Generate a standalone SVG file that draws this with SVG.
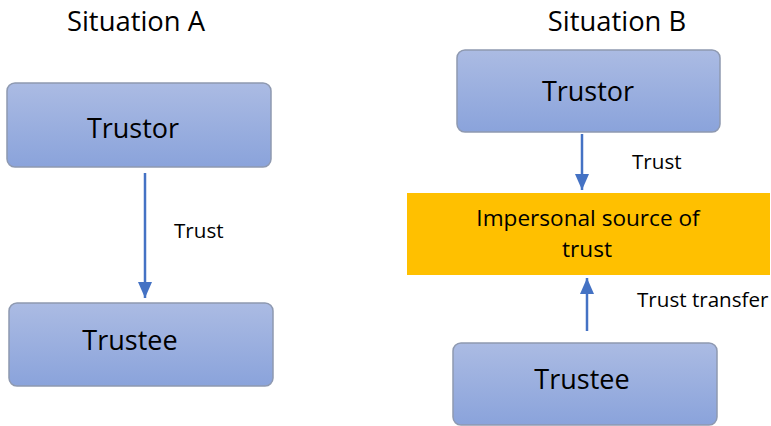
<svg xmlns="http://www.w3.org/2000/svg" width="771" height="426" viewBox="0 0 771 426">
<defs>
<linearGradient id="g" x1="0" y1="0" x2="0" y2="1">
<stop offset="0" stop-color="#abbbe3"/>
<stop offset="1" stop-color="#8aa3db"/>
</linearGradient>
<marker id="ah" viewBox="0 0 16 14" refX="16" refY="7" markerWidth="16" markerHeight="14" markerUnits="userSpaceOnUse" orient="auto">
<path d="M0,0 L16,7 L0,14 Z" fill="#4472c4"/>
</marker>
<style>
text{font-family:"Open Sans","Noto Sans","DejaVu Sans",sans-serif;fill:#000;text-anchor:middle}
.box{fill:url(#g);stroke:#8e99b0;stroke-width:1.5}
.title{font-size:27.4px}
.lbl{font-size:27px}
.src{font-size:22.6px}
.small{font-size:20.6px;text-anchor:start}
.conn{stroke:#4472c4;stroke-width:2.5;fill:none;marker-end:url(#ah)}
</style>
</defs>
<text class="title" x="136" y="31">Situation A</text>
<text class="title" x="617" y="31">Situation B</text>
<g id="trustorA"><rect class="box" x="7" y="83" width="264" height="84" rx="8"/><text class="lbl" x="133" y="138">Trustor</text></g>
<g id="trusteeA"><rect class="box" x="9" y="303" width="264" height="83" rx="8"/><text class="lbl" x="130" y="350">Trustee</text></g>
<g id="trustorB"><rect class="box" x="457" y="50" width="263" height="82" rx="8"/><text class="lbl" x="588" y="101">Trustor</text></g>
<g id="source"><rect x="407" y="193" width="363" height="82" fill="#ffc000"/><text class="src" x="588" y="226">Impersonal source of</text><text class="src" x="587" y="257">trust</text></g>
<g id="trusteeB"><rect class="box" x="453" y="343" width="264" height="82" rx="8"/><text class="lbl" x="582" y="389">Trustee</text></g>
<g id="connectors">
<line class="conn" x1="145" y1="173" x2="145" y2="298"/>
<line class="conn" x1="582" y1="134" x2="582" y2="190"/>
<line class="conn" x1="587" y1="331" x2="587" y2="278"/>
<text class="small" x="174" y="238">Trust</text>
<text class="small" x="632" y="169">Trust</text>
<text class="small" x="637" y="307">Trust transfer</text>
</g>
</svg>
